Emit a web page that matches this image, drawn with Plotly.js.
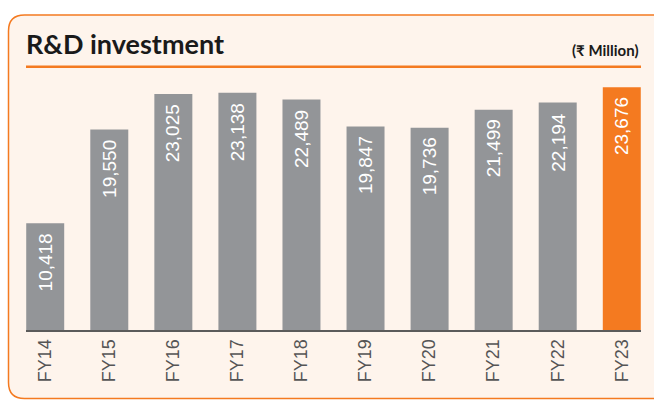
<!DOCTYPE html>
<html>
<head>
<meta charset="utf-8">
<script src="https://cdn.plot.ly/plotly-3.0.1.min.js"></script>
<style>
  html, body { margin: 0; padding: 0; background: #ffffff; }
  #chart { width: 654px; height: 400px; }
</style>
</head>
<body>
<div id="chart"></div>
<script>
// ---- data ----
const categories = ["FY14", "FY15", "FY16", "FY17", "FY18", "FY19", "FY20", "FY21", "FY22", "FY23"];
const investment = [10418, 19550, 23025, 23138, 22489, 19847, 19736, 21499, 22194, 23676];
const valueLabels = ["10,418", "19,550", "23,025", "23,138", "22,489", "19,847", "19,736", "21,499", "22,194", "23,676"];
const chartTitle = "R&amp;D investment";
const unitLabel = "(₹ Million)";

// ---- styling ----
const GRAY = "#939598";
const ORANGE = "#f47a20";
const PEACH = "#fef4ec";
const W = 654, H = 400;
const M = { l: 26, r: 13, t: 84, b: 70 };
const PW = W - M.l - M.r, PH = H - M.t - M.b;
const px = v => (v - M.l) / PW;          // pixel x -> paper x
const py = v => (H - M.b - v) / PH;      // pixel y -> paper y

const barColors = categories.map((c, i) => i === categories.length - 1 ? ORANGE : GRAY);

const trace = {
  type: "bar",
  x: categories,
  y: investment,
  marker: { color: barColors, line: { width: 0 } },
  hoverinfo: "skip"
};

// rounded panel path (extends past the right edge)
const x0 = 8.5, x1 = 700, y0 = 15, y1 = 398.5, r = 16;
const panelPath =
  `M ${px(x0)},${py(y0 + r)} ` +
  `Q ${px(x0)},${py(y0)} ${px(x0 + r)},${py(y0)} ` +
  `L ${px(x1)},${py(y0)} L ${px(x1)},${py(y1)} ` +
  `L ${px(x0 + r)},${py(y1)} ` +
  `Q ${px(x0)},${py(y1)} ${px(x0)},${py(y1 - r)} Z`;

const annotations = categories.map((c, i) => ({
  x: c, y: investment[i], xref: "x", yref: "y",
  text: valueLabels[i],
  textangle: -90,
  showarrow: false,
  xanchor: "center", yanchor: "top",
  yshift: -8,
  font: { family: "Liberation Sans, Arial, sans-serif", size: 19, color: "#ffffff" }
}));
annotations.push({
  x: 1, y: py(50.5), xref: "paper", yref: "paper",
  text: "<b>" + unitLabel + "</b>",
  showarrow: false, xanchor: "right", yanchor: "middle",
  font: { family: "Lato, sans-serif", size: 15, color: "#1a1a1a" }
});

const layout = {
  width: W, height: H,
  margin: M,
  paper_bgcolor: "#ffffff",
  plot_bgcolor: "rgba(0,0,0,0)",
  showlegend: false,
  bargap: 0.407,
  title: {
    text: "<b>" + chartTitle + "</b>",
    x: M.l / W, xanchor: "left", xref: "container",
    y: 1 - 45 / H, yanchor: "middle", yref: "container",
    font: { family: "Lato, sans-serif", size: 27, color: "#1a1a1a" }
  },
  xaxis: {
    type: "category",
    range: [-0.3, 9.3],
    showline: true, linecolor: "#5b5b5b", linewidth: 2,
    showgrid: false, zeroline: false,
    ticks: "",
    tickangle: -90,
    tickfont: { family: "Liberation Sans, Arial, sans-serif", size: 18, color: "#555555" },
    fixedrange: true
  },
  yaxis: {
    range: [0, 24000],
    visible: false,
    fixedrange: true
  },
  shapes: [
    {
      type: "path", xref: "paper", yref: "paper", layer: "below",
      path: panelPath,
      fillcolor: PEACH,
      line: { color: ORANGE, width: 1.5 }
    },
    {
      type: "line", xref: "paper", yref: "paper", layer: "above",
      x0: 0, x1: 1, y0: py(66.7), y1: py(66.7),
      line: { color: ORANGE, width: 2.5 }
    }
  ],
  annotations: annotations
};

Plotly.newPlot("chart", [trace], layout, { displayModeBar: false, staticPlot: true });
</script>
</body>
</html>
